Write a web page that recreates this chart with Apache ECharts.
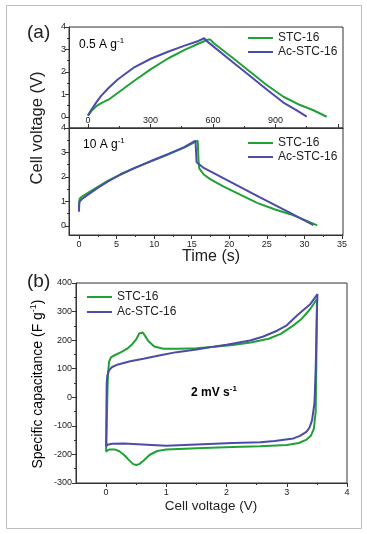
<!DOCTYPE html>
<html><head><meta charset="utf-8">
<script src="https://cdn.jsdelivr.net/npm/echarts@6/dist/echarts.min.js"></script>
<style>html,body{margin:0;padding:0;background:#fff}#c{width:367px;height:534px}</style>
</head><body><div id="c"></div>
<script>
// ---------- DATA ----------
const seriesNames = ['STC-16', 'Ac-STC-16'];

// (a) top: galvanostatic charge/discharge at 0.5 A g-1  [time (s), voltage (V)]
const gcdLowStc = [[0,0.05],[15,0.25],[40,0.48],[64,0.62],[100,0.78],[144,1.08],[224,1.62],[304,2.14],[384,2.6],[464,2.98],[540,3.3],[566,3.4],[580,3.45],[583,3.52],[590,3.42],[601,3.3],[697,2.61],[778,2.01],[858,1.42],[938,0.9],[1018,0.53],[1082,0.3],[1146,0.01]];
const gcdLowAc  = [[0,0.08],[15,0.3],[40,0.65],[64,0.95],[100,1.3],[144,1.68],[224,2.22],[304,2.6],[384,2.9],[464,3.17],[530,3.38],[558,3.5],[572,3.36],[697,2.42],[778,1.82],[858,1.22],[938,0.64],[1000,0.3],[1050,0.02]];

// (a) bottom: 10 A g-1  [time (s), voltage (V)]
const gcdHighStc = [[0,0.72],[0.02,0.95],[0.1,1.12],[0.5,1.22],[1.2,1.35],[2.5,1.6],[3.87,1.85],[5.5,2.1],[7.4,2.36],[9.5,2.63],[11.9,2.92],[14,3.2],[15.8,3.48],[15.85,3.5],[15.9,2.7],[16.0,2.35],[16.6,2.1],[17.5,1.9],[19.2,1.62],[21.5,1.27],[23.7,0.94],[26,0.68],[28.1,0.48],[30,0.25],[31.7,0.02]];
const gcdHighAc  = [[0,0.58],[0.02,0.85],[0.08,1.0],[0.4,1.1],[1.2,1.28],[2.5,1.55],[3.87,1.82],[5.5,2.1],[7.4,2.37],[9.5,2.64],[11.9,2.94],[14,3.22],[15.5,3.48],[15.6,3.5],[15.65,2.6],[15.8,2.55],[16.6,2.37],[19.2,1.95],[23.7,1.23],[28.1,0.53],[31.2,0.03]];

// (b) cyclic voltammetry at 2 mV s-1  [cell voltage (V), specific capacitance (F g-1)]
const cvStc = [[0,-190],[0.01,-100],[0.02,0],[0.03,80],[0.05,125],[0.08,140],[0.15,148],[0.25,158],[0.35,170],[0.43,185],[0.5,203],[0.55,223],[0.58,230],[0.61,227],[0.65,214],[0.7,197],[0.8,178],[0.95,170],[1.2,170],[1.5,172],[1.8,177],[2.1,183],[2.4,192],[2.7,205],[2.9,222],[3.1,250],[3.25,275],[3.39,309],[3.5,344],
  [3.5,300],[3.49,100],[3.48,-50],[3.45,-110],[3.4,-135],[3.33,-148],[3.2,-160],[3.0,-167],[2.56,-171],[2.1,-174],[1.5,-178],[1.0,-183],[0.85,-188],[0.72,-202],[0.62,-222],[0.55,-234],[0.5,-237],[0.45,-234],[0.38,-220],[0.3,-202],[0.22,-189],[0.15,-183],[0.05,-183],[0.01,-188],[0,-192]];
const cvAc = [[0,-172],[0.005,-50],[0.01,50],[0.02,75],[0.05,95],[0.1,106],[0.2,115],[0.4,126],[0.62,135],[0.9,147],[1.17,158],[1.5,167],[1.72,175],[2.0,184],[2.39,199],[2.6,212],[2.84,233],[3.0,252],[3.17,286],[3.3,310],[3.39,326],[3.51,361],
  [3.5,300],[3.48,100],[3.46,-20],[3.42,-80],[3.38,-105],[3.33,-120],[3.22,-135],[3.11,-144],[2.8,-153],[2.56,-157],[2.1,-160],[1.5,-165],[1.0,-170],[0.6,-165],[0.3,-162],[0.1,-163],[0.02,-166],[0,-172]];

// tick values
const a1XLabels = [0, 300, 600, 900];
const a1XMajor = [0, 300, 600, 900, 1200];
const a1XMinor = [150, 450, 750, 1050];
const aYLabels = [0, 1, 2, 3, 4];
const aYMinor = [0.5, 1.5, 2.5, 3.5];
const a2XLabels = [0, 5, 10, 15, 20, 25, 30, 35];
const a2XMinor = [2.5, 7.5, 12.5, 17.5, 22.5, 27.5, 32.5];
const bXLabels = [0, 1, 2, 3, 4];
const bXMinor = [0.5, 1.5, 2.5, 3.5];
const bYLabels = [-300, -200, -100, 0, 100, 200, 300, 400];
const bYMinor = [-250, -150, -50, 50, 150, 250, 350];

// ---------- CHART ----------
const FONT = 'Arial, "Liberation Sans", sans-serif';
const AX = '#333';
const GREEN = '#22a038';
const BLUE = '#4b4ca8';

function axisPair(grid, pos, min, max, labelVals, majorVals, minorVals, inside, margin) {
  return [{
    type: 'value', gridIndex: grid, position: pos, min: min, max: max,
    axisLine: { show: true, onZero: false, lineStyle: { color: AX, width: 1 } },
    splitLine: { show: false },
    axisTick: { show: true, inside: inside, length: 4, customValues: majorVals, lineStyle: { color: AX } },
    axisLabel: { show: true, inside: inside, margin: margin, customValues: labelVals, showMinLabel: true, showMaxLabel: true, hideOverlap: false, color: '#222', fontSize: 9, fontFamily: FONT }
  }, {
    type: 'value', gridIndex: grid, position: pos, min: min, max: max,
    axisLine: { show: false, onZero: false },
    splitLine: { show: false },
    axisTick: { show: true, inside: inside, length: 2, customValues: minorVals, lineStyle: { color: AX } },
    axisLabel: { show: false }
  }];
}

const xAxes = [].concat(
  axisPair(0, 'bottom', -91, 1224, a1XLabels, a1XMajor, a1XMinor, true, 3),
  axisPair(1, 'bottom', -1.33, 35.13, a2XLabels, a2XLabels, a2XMinor, false, 5),
  axisPair(2, 'bottom', -0.5, 4, bXLabels, bXLabels, bXMinor, false, 5)
);
const yAxes = [].concat(
  axisPair(0, 'left', -0.49, 4, aYLabels, aYLabels, aYMinor, false, 3),
  axisPair(1, 'left', -0.37, 4, aYLabels, aYLabels, aYMinor, false, 3),
  axisPair(2, 'left', -300, 400, bYLabels, bYLabels, bYMinor, false, 4)
);

function lineSeries(name, data, axisIdx, color) {
  return {
    type: 'line', name: name, data: data, xAxisIndex: axisIdx, yAxisIndex: axisIdx,
    symbol: 'none', smooth: false, lineStyle: { color: color, width: 2 }, itemStyle: { color: color },
    animation: false
  };
}

function legendAt(left, top, gap) {
  return {
    left: left, top: top, orient: 'vertical', icon: 'rect', itemWidth: 25, itemHeight: 2, itemGap: gap, padding: 0,
    data: seriesNames, textStyle: { fontSize: 12, fontFamily: FONT, color: '#222', lineHeight: 12 }
  };
}

function txt(x, y, text, size, extra, rot) {
  return {
    type: 'text', x: x, y: y, rotation: rot || 0, silent: true,
    style: Object.assign({ text: text, font: size + 'px ' + FONT, fill: '#222', align: 'left', verticalAlign: 'middle' }, extra || {})
  };
}

const supRich = function (size) {
  return { a: { fontSize: size, fontFamily: FONT, color: '#222', lineHeight: size + 4 },
           s: { fontSize: Math.round(size * 0.65), fontFamily: FONT, color: '#222', verticalAlign: 'top', lineHeight: size + 4 } };
};

const chart = echarts.init(document.getElementById('c'), null, { renderer: 'canvas' });
chart.setOption({
  backgroundColor: '#fff',
  animation: false,
  grid: [
    { left: 69, top: 27, width: 274, height: 101, show: true, borderColor: AX, borderWidth: 1, backgroundColor: 'transparent' },
    { left: 69, top: 128, width: 274, height: 107, show: true, borderColor: AX, borderWidth: 1, backgroundColor: 'transparent' },
    { left: 76, top: 283, width: 271, height: 200, show: true, borderColor: AX, borderWidth: 1, backgroundColor: 'transparent' }
  ],
  xAxis: xAxes,
  yAxis: yAxes,
  legend: [legendAt(248, 32, 2), legendAt(248, 137, 2), legendAt(87, 291, 3)],
  series: [
    lineSeries(seriesNames[0], gcdLowStc, 0, GREEN),
    lineSeries(seriesNames[1], gcdLowAc, 0, BLUE),
    lineSeries(seriesNames[0], gcdHighStc, 2, GREEN),
    lineSeries(seriesNames[1], gcdHighAc, 2, BLUE),
    lineSeries(seriesNames[0], cvStc, 4, GREEN),
    lineSeries(seriesNames[1], cvAc, 4, BLUE)
  ],
  graphic: [
    { type: 'rect', silent: true, shape: { x: 6.5, y: 5.5, width: 355, height: 523 }, style: { fill: 'none', stroke: '#bdbdbd', lineWidth: 1 } },
    txt(27, 33, '(a)', 19),
    txt(27, 282, '(b)', 19),
    txt(37, 128, 'Cell voltage (V)', 16.5, { align: 'center' }, Math.PI / 2),
    txt(211, 257, 'Time (s)', 16, { align: 'center' }),
    txt(211, 506, 'Cell voltage (V)', 13.5, { align: 'center' }),
    { type: 'text', x: 38, y: 384, rotation: Math.PI / 2, silent: true,
      style: { text: '{a|Specific capacitance (F g}{s|-1}{a|)}', rich: supRich(14), align: 'center', verticalAlign: 'middle' } },
    { type: 'text', x: 79, y: 45, silent: true,
      style: { text: '{a|0.5 A g}{s|-1}', rich: supRich(12), align: 'left', verticalAlign: 'middle' } },
    { type: 'text', x: 83, y: 145, silent: true,
      style: { text: '{a|10 A g}{s|-1}', rich: supRich(12), align: 'left', verticalAlign: 'middle' } },
    { type: 'text', x: 214, y: 393, silent: true,
      style: { text: '{a|2 mV s}{s|-1}', rich: { a: { fontSize: 12, fontWeight: 'bold', fontFamily: FONT, color: '#111', lineHeight: 16 }, s: { fontSize: 8, fontWeight: 'bold', fontFamily: FONT, color: '#111', verticalAlign: 'top', lineHeight: 16 } }, align: 'center', verticalAlign: 'middle' } }
  ]
});
</script>
</body></html>
